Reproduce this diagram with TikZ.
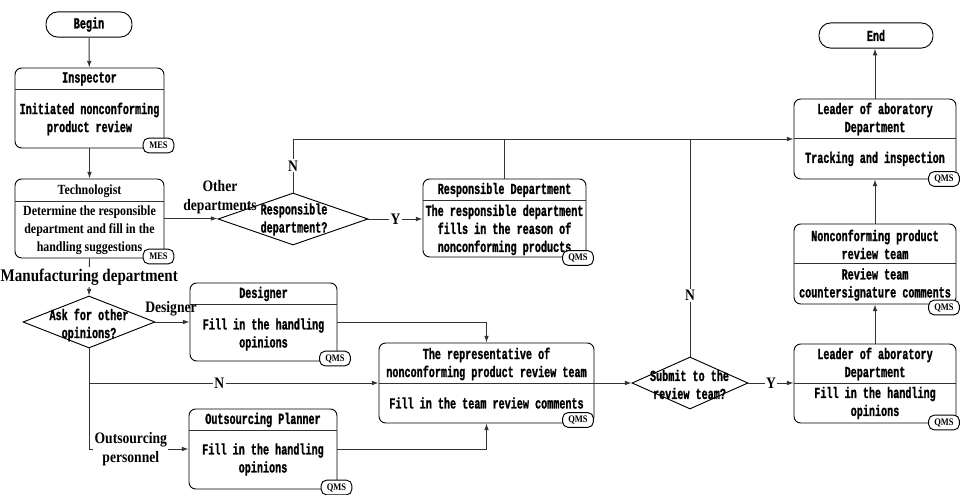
\documentclass[tikz,border=0pt]{standalone}
\usepackage{fontspec}
\setmainfont{Liberation Serif}
\newfontfamily\boxfont[FakeStretch=0.66,FakeBold=1.2]{Liberation Mono}
\newfontfamily\labfont[FakeStretch=0.85]{Liberation Serif}
\usetikzlibrary{arrows.meta,shapes.geometric,fit}

\begin{document}
\begin{tikzpicture}[x=0.75pt,y=-0.75pt]
	\tikzstyle{box} = [draw, rounded corners=5pt, inner sep=0, line width=0.7pt]
	\tikzstyle{pill} = [draw, rounded corners=9pt, inner sep=0, line width=0.7pt, font=\boxfont\bfseries\fontsize{11.5}{13.5}\selectfont]
	\tikzstyle{txt} = [align=center, inner sep=0, font=\boxfont\bfseries\fontsize{11.5}{13.5}\selectfont]
	\tikzstyle{serif} = [align=center, inner sep=0, font=\labfont\bfseries\fontsize{10.5}{13.5}\selectfont]
	\tikzstyle{lab} = [fill=white, inner sep=1pt, align=center, font=\labfont\bfseries\fontsize{12}{14.5}\selectfont]
	\tikzstyle{labnf} = [inner sep=1pt, align=center, font=\labfont\bfseries\fontsize{12}{14.5}\selectfont]
	\tikzstyle{tag} = [draw, fill=white, rounded corners=4pt, inner sep=0, minimum width=23pt, minimum height=11pt, line width=0.7pt, font=\labfont\bfseries\fontsize{7.5}{8}\selectfont]
	\tikzstyle{dec} = [draw, diamond, inner sep=0, line width=0.7pt]
	\tikzstyle{wire} = [line width=0.7pt, draw=black!80]
	\tikzstyle{arr} = [-{Latex[length=5pt,width=3.5pt]}, line width=0.7pt, draw=black!80]
\useasboundingbox (0,0) rectangle (962,495);
\node [pill, minimum width=64.5pt, minimum height=19pt] (v1) at (89,24.5) {Begin};
\node [box, fit={(15,68) (164,148)}] (v2) {};
\node [box, fit={(15,179) (164,258)}] (v3) {};
\node [box, fit={(423,179) (586,257)}] (v4) {};
\node [box, fit={(190,283) (337,361)}] (v5) {};
\node [box, fit={(189,409) (337,489)}] (v6) {};
\node [box, fit={(379,343) (594,423)}] (v7) {};
\node [box, fit={(794,344) (956,423)}] (v8) {};
\node [box, fit={(794,99) (956,179)}] (v9) {};
\node [box, fit={(794,224) (956,304)}] (v10) {};
\node [pill, minimum width=85.5pt, minimum height=19pt] (v11) at (876,35.5) {End};
\node [dec, minimum width=112.5pt, minimum height=39pt] (d1) at (293,219) {};
\node [dec, minimum width=99pt, minimum height=39pt] (d2) at (89,322) {};
\node [dec, minimum width=87pt, minimum height=39pt] (d3) at (690,383) {};
\draw [wire] (15,89) -- (164,89);
\draw [wire] (15,201) -- (164,201);
\draw [wire] (423,200) -- (586,200);
\draw [wire] (190,304) -- (337,304);
\draw [wire] (189,430) -- (337,430);
\draw [wire] (379,383) -- (594,383);
\draw [wire] (794,383) -- (956,383);
\draw [wire] (794,138) -- (956,138);
\draw [wire] (794,263) -- (956,263);

\node [txt] (v2a) at (89.5,79) {Inspector};
\node [txt] (v2b) at (89.5,119) {Initiated nonconforming\\product review};
\node [serif] (v3a) at (89.5,191) {Technologist};
\node [serif] (v3b) at (89.5,230) {Determine the responsible\\department and fill in the\\handling suggestions};
\node [txt] (v4a) at (504.5,190) {Responsible Department};
\node [txt] (v4b) at (504.5,230) {The responsible department\\fills in the reason of\\nonconforming products};
\node [txt] (v5a) at (263.5,294) {Designer};
\node [txt] (v5b) at (263.5,334.5) {Fill in the handling\\opinions};
\node [txt] (v6a) at (263,420) {Outsourcing Planner};
\node [txt] (v6b) at (263,459.5) {Fill in the handling\\opinions};
\node [txt] (v7a) at (486.5,364) {The representative of\\nonconforming product review team};
\node [txt] (v7b) at (486.5,403) {Fill in the team review comments};
\node [txt] (v8a) at (875,364) {Leader of aboratory\\Department};
\node [txt] (v8b) at (875,403) {Fill in the handling\\opinions};
\node [txt] (v9a) at (875,119) {Leader of aboratory\\Department};
\node [txt] (v9b) at (875,159) {Tracking and inspection};
\node [txt] (v10a) at (875,244.5) {Nonconforming product\\review team};
\node [txt] (v10b) at (875,284.5) {Review team\\countersignature comments};
\node [txt] (d1a) at (294,219.5) {Responsible\\department?};
\node [txt] (d2a) at (89,325) {Ask for other\\opinions?};
\node [txt] (d3a) at (689.5,384.5) {Submit to the\\review team?};

\coordinate (c1) at (293,139);
\draw [arr] (v1) -- (v2);
\draw [arr] (v2) -- (v3);
\draw [arr] (v3.east) -- (v3.east -| d1.west);
\draw [arr] (d1.east) -- node [lab] {Y} (d1.east -| v4.west);
\draw [wire] (d1.north) -- node [lab] {N} (c1);
\draw [arr] (c1) -- (c1 -| v9.west);
\draw [wire] (v4.north) -- (v4.north |- c1);
\draw [wire] (d3.north) -- node [lab, pos=0.28] {N} (d3.north |- c1);
\draw [arr] (v3.south) -- node [lab, font=\labfont\bfseries\fontsize{13.3}{15}\selectfont] {Manufacturing department} (d2.north);
\draw [arr] (d2.east) -- (d2.east -| v5.west);
\draw [arr] (v5.east) -| (v7.north);
\draw [arr] (d2.south) |- node [lab, pos=0.71] {Outsourcing\\personnel} (v6.west);
\draw [arr] (d2.south |- v7.west) -- node [lab, pos=0.45] {N} (v7.west);
\draw [arr] (v6.east) -| (v7.south);
\draw [arr] (v7.east) -- (d3.west);
\draw [arr] (d3.east) -- node [lab] {Y} (d3.east -| v8.west);
\draw [arr] (v8) -- (v10);
\draw [arr] (v10) -- (v9);
\draw [arr] (v9.north) -- (v9.north |- v11.south);

\node [labnf] (l1) at (220,197) {Other\\departments};
\node [labnf] (l2) at (171,309) {Designer};
\node [tag] (t2) at (158.5,145.5) {MES};
\node [tag] (t3) at (158.5,256.5) {MES};
\node [tag] (t4) at (578,258) {QMS};
\node [tag] (t5) at (335,358.5) {QMS};
\node [tag] (t6) at (336.5,487.5) {QMS};
\node [tag] (t7) at (578,420) {QMS};
\node [tag] (t8) at (944,422.5) {QMS};
\node [tag] (t9) at (944,179) {QMS};
\node [tag] (t10) at (944,307.5) {QMS};
\end{tikzpicture}
\end{document}
